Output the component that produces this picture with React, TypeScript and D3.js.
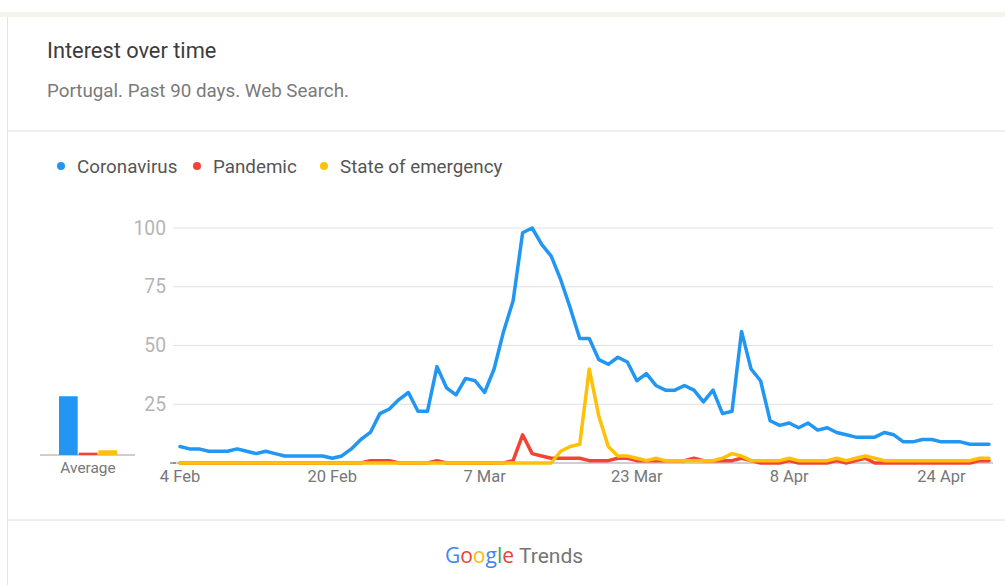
import React from "react";
import * as d3 from "d3";

const seriesNames = ["Coronavirus", "Pandemic", "State of emergency"];
const seriesColors = ["#2196f3", "#f44336", "#ffc107"];

const startDate = new Date(Date.UTC(2020, 1, 4));
const endDate = new Date(Date.UTC(2020, 3, 30));

const coronavirus = [
  7, 6, 6, 5, 5, 5, 6, 5, 4, 5, 4, 3, 3, 3, 3, 3, 2, 3, 6, 10,
  13, 21, 23, 27, 30, 22, 22, 41, 32, 29, 36, 35, 30, 40, 56, 69, 98, 100, 93, 88,
  78, 66, 53, 53, 44, 42, 45, 43, 35, 38, 33, 31, 31, 33, 31, 26, 31, 21, 22, 56,
  40, 35, 18, 16, 17, 15, 17, 14, 15, 13, 12, 11, 11, 11, 13, 12, 9, 9, 10, 10,
  9, 9, 9, 8, 8, 8,
];
const pandemic = [
  0, 0, 0, 0, 0, 0, 0, 0, 0, 0, 0, 0, 0, 0, 0, 0, 0, 0, 0, 0,
  1, 1, 1, 0, 0, 0, 0, 1, 0, 0, 0, 0, 0, 0, 0, 1, 12, 4, 3, 2,
  2, 2, 2, 1, 1, 1, 2, 2, 1, 1, 1, 1, 1, 1, 2, 1, 1, 1, 1, 2,
  1, 0, 0, 0, 1, 0, 0, 0, 0, 1, 0, 1, 2, 0, 0, 0, 0, 0, 0, 0,
  0, 0, 0, 0, 1, 1,
];
const stateOfEmergency = [
  0, 0, 0, 0, 0, 0, 0, 0, 0, 0, 0, 0, 0, 0, 0, 0, 0, 0, 0, 0,
  0, 0, 0, 0, 0, 0, 0, 0, 0, 0, 0, 0, 0, 0, 0, 0, 0, 0, 0, 0,
  5, 7, 8, 40, 20, 7, 3, 3, 2, 1, 2, 1, 1, 1, 1, 1, 1, 2, 4, 3,
  1, 1, 1, 1, 2, 1, 1, 1, 1, 2, 1, 2, 3, 2, 1, 1, 1, 1, 1, 1,
  1, 1, 1, 1, 2, 2,
];
const averages = [25, 1, 2];
const yTicks = [25, 50, 75, 100];
const xTickDates = [
  new Date(Date.UTC(2020, 1, 4)),
  new Date(Date.UTC(2020, 1, 20)),
  new Date(Date.UTC(2020, 2, 7)),
  new Date(Date.UTC(2020, 2, 23)),
  new Date(Date.UTC(2020, 3, 8)),
  new Date(Date.UTC(2020, 3, 24)),
];

const FONT = "Roboto, 'Noto Sans', Arial, sans-serif";

export default function App() {
  const dates = d3.utcDay.range(startDate, endDate);
  const x = d3.scaleUtc().domain([dates[0], dates[dates.length - 1]]).range([180, 989]);
  const y = d3.scaleLinear().domain([0, 100]).range([463, 228]);
  const line = d3
    .line<number>()
    .x((_, i) => x(dates[i]))
    .y((v) => y(v))
    .curve(d3.curveLinear);
  const fmt = d3.utcFormat("%-d %b");

  const avgX = d3.scaleBand<string>().domain(seriesNames).range([59, 117]).paddingInner(0.05);
  const avgBase = 455;
  const avgY = d3.scaleLinear().domain([0, 100]).range([avgBase, avgBase - 235]);

  const allSeries = [coronavirus, pandemic, stateOfEmergency];
  const drawOrder = [1, 2, 0];

  const legendX = [61, 197, 324];

  const googleLetters = [
    { ch: "G", c: "#4285F4" },
    { ch: "o", c: "#EA4335" },
    { ch: "o", c: "#FBBC05" },
    { ch: "g", c: "#4285F4" },
    { ch: "l", c: "#34A853" },
    { ch: "e", c: "#EA4335" },
  ];

  return (
    <svg
      width={1005}
      height={585}
      style={{ position: "absolute", left: 0, top: 0, background: "#fff" }}
      fontFamily={FONT}
    >
      <rect x={0} y={0} width={1005} height={585} fill="#fff" />
      <rect x={0} y={12} width={1005} height={5} fill="#f4f3ee" />
      <line x1={7.5} x2={7.5} y1={17} y2={585} stroke="#e4e4e4" />
      <text x={47} y={58} fontSize={21.8} fill="#3c3c3c">
        Interest over time
      </text>
      <text x={47} y={97} fontSize={18.8} fill="#7a7a7a">
        Portugal. Past 90 days. Web Search.
      </text>
      <line x1={8} x2={1005} y1={131} y2={131} stroke="#e0e0e0" />
      <line x1={8} x2={1005} y1={520} y2={520} stroke="#e0e0e0" />

      {seriesNames.map((n, i) => (
        <g key={n}>
          <circle cx={legendX[i]} cy={166} r={4} fill={seriesColors[i]} />
          <text x={legendX[i] + 16} y={172.5} fontSize={18.8} fill="#555">
            {n}
          </text>
        </g>
      ))}

      {yTicks.map((t) => (
        <g key={t}>
          <line x1={173} x2={993} y1={y(t)} y2={y(t)} stroke="#e0e0e0" strokeWidth={1} />
          <text x={166} y={y(t) + 6.5} textAnchor="end" fontSize={19.3} fill="#b5b5b5">
            {t}
          </text>
        </g>
      ))}
      <line x1={173} x2={993} y1={y(0)} y2={y(0)} stroke="#9e9e9e" strokeWidth={1} />
      <line x1={170} x2={176} y1={y(0)} y2={y(0)} stroke="#555" strokeWidth={1} />

      {xTickDates.map((d) => (
        <text key={+d} x={x(d)} y={482} textAnchor="middle" fontSize={16.5} fill="#777">
          {fmt(d)}
        </text>
      ))}

      {drawOrder.map((si) => (
        <path
          key={si}
          d={line(allSeries[si]) || ""}
          fill="none"
          stroke={seriesColors[si]}
          strokeWidth={3.5}
          strokeLinejoin="round"
          strokeLinecap="round"
        />
      ))}

      <line x1={40} x2={135} y1={avgBase} y2={avgBase} stroke="#9e9e9e" />
      {seriesNames.map((n, i) => (
        <rect
          key={n}
          x={avgX(n)}
          y={avgY(averages[i])}
          width={avgX.bandwidth()}
          height={avgBase - avgY(averages[i])}
          fill={seriesColors[i]}
        />
      ))}
      <text x={88} y={472.5} textAnchor="middle" fontSize={15.4} fill="#777">
        Average
      </text>

      <text x={514} y={563} textAnchor="middle" fontSize={21}>
        {googleLetters.map((l, i) => (
          <tspan key={i} fill={l.c} fontFamily="'Open Sans', Roboto, sans-serif">
            {l.ch}
          </tspan>
        ))}
        <tspan fill="#757575" dx={5}>
          Trends
        </tspan>
      </text>
    </svg>
  );
}
